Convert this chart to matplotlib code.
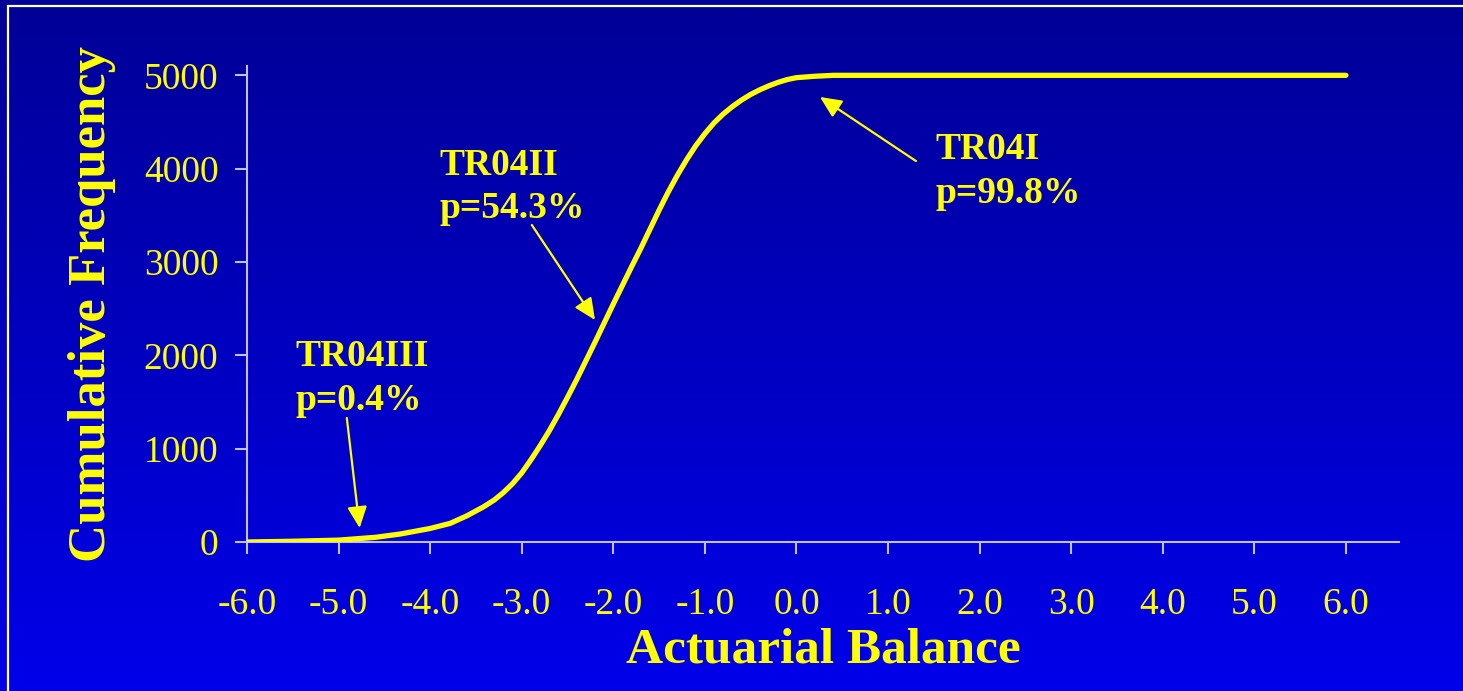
import matplotlib
matplotlib.use("Agg")
import matplotlib.pyplot as plt
import numpy as np
from matplotlib.patches import Rectangle

# ---- data ----
balance = [-6.0, -5.5, -5.0, -4.6, -4.33, -4.0, -3.78, -3.6, -3.42, -3.3, -3.2, -3.1,
           -3.0, -2.9, -2.8, -2.7, -2.6, -2.5, -2.4, -2.3, -2.2, -2.1, -2.0,
           -1.9, -1.8, -1.7, -1.6, -1.5, -1.4, -1.3, -1.2, -1.1, -1.0, -0.9,
           -0.8, -0.7, -0.6, -0.5, -0.4, -0.3, -0.2, -0.1, 0.0, 0.2, 0.4, 6.0]
cum_freq = [0, 8, 20, 50, 85, 145, 200, 280, 375, 450, 530, 625,
            740, 880, 1030, 1190, 1365, 1550, 1740, 1940, 2140, 2345, 2550,
            2750, 2950, 3145, 3350, 3555, 3750, 3930, 4095, 4245, 4375, 4490,
            4585, 4665, 4735, 4795, 4845, 4888, 4925, 4955, 4975, 4990, 5000, 5000]
x_ticks = [-6.0, -5.0, -4.0, -3.0, -2.0, -1.0, 0.0, 1.0, 2.0, 3.0, 4.0, 5.0, 6.0]
x_ticklabels = ["-6.0", "-5.0", "-4.0", "-3.0", "-2.0", "-1.0", "0.0",
                "1.0", "2.0", "3.0", "4.0", "5.0", "6.0"]
y_ticks = [0, 1000, 2000, 3000, 4000, 5000]
labels_names = ["TR04III", "TR04II", "TR04I"]
labels_p = ["p=0.4%", "p=54.3%", "p=99.8%"]

YELLOW = "#ffff00"
SPINE = "#c0c0ff"
SERIF = ["Liberation Serif", "DejaVu Serif"]

fig = plt.figure(figsize=(14.63, 6.91), dpi=100)

# gradient background
bg = fig.add_axes([0, 0, 1, 1], zorder=-10)
grad = np.linspace(0, 1, 256).reshape(-1, 1)
top = np.array([0, 0, 150]) / 255.0
bot = np.array([0, 0, 234]) / 255.0
img = top[None, None, :] * (1 - grad[:, :, None]) + bot[None, None, :] * grad[:, :, None]
bg.imshow(img, aspect="auto", extent=[0, 1, 0, 1], origin="upper")
bg.set_xlim(0, 1)
bg.set_ylim(0, 1)
bg.axis("off")

# white frame
fig.patches.append(Rectangle((8 / 1463, -0.05), 1.2, 0.9913 + 0.05,
                             transform=fig.transFigure, fill=False,
                             edgecolor="white", linewidth=1.6, zorder=-5))

ax = fig.add_axes([247 / 1463, 1 - 542 / 691, (1399 - 247) / 1463, (542 - 66) / 691])
ax.set_facecolor("none")
ax.plot(balance, cum_freq, color=YELLOW, linewidth=3.8, solid_capstyle="round",
        solid_joinstyle="round", zorder=3)

ax.set_xlim(-6.0, 6.58)
ax.set_ylim(0, 5100)
ax.set_xticks(x_ticks)
ax.set_xticklabels(x_ticklabels)
ax.set_yticks(y_ticks)

for side in ["top", "right"]:
    ax.spines[side].set_visible(False)
for side in ["left", "bottom"]:
    ax.spines[side].set_color(SPINE)
    ax.spines[side].set_linewidth(1.5)

ax.tick_params(axis="both", direction="out", length=8.6, width=1.5, color=SPINE,
               labelcolor=YELLOW, labelsize=27)
ax.tick_params(axis="x", pad=24)
ax.tick_params(axis="y", pad=12)
for lab in ax.get_xticklabels() + ax.get_yticklabels():
    lab.set_family(SERIF)

ax.set_xlabel("Actuarial Balance", family=SERIF, fontsize=37, fontweight="bold",
              color=YELLOW, labelpad=4)
ax.set_ylabel("Cumulative Frequency", family=SERIF, fontsize=38, fontweight="bold",
              color=YELLOW, labelpad=20)

# annotations
text_pos = [(-5.47, 1886, 1414), (-3.90, 3932, 3472), (1.52, 4104, 3632)]
arrows = [((-4.91, 1329), (-4.77, 150)),
          ((-2.89, 3397), (-2.20, 2379)),
          ((1.305, 4082), (0.257, 4768))]
for name, p, (tx, y1, y2), (tail, tip) in zip(labels_names, labels_p, text_pos, arrows):
    ax.text(tx, y1, name, family=SERIF, fontsize=27, fontweight="bold",
            color=YELLOW, va="baseline", ha="left")
    ax.text(tx, y2, p, family=SERIF, fontsize=27, fontweight="bold",
            color=YELLOW, va="baseline", ha="left")
    ax.annotate("", xy=tip, xytext=tail,
                arrowprops=dict(arrowstyle="-|>,head_length=0.65,head_width=0.3",
                                mutation_scale=20, color=YELLOW, linewidth=1.6,
                                shrinkA=0, shrinkB=0))

fig.savefig("out.png", dpi=100)
